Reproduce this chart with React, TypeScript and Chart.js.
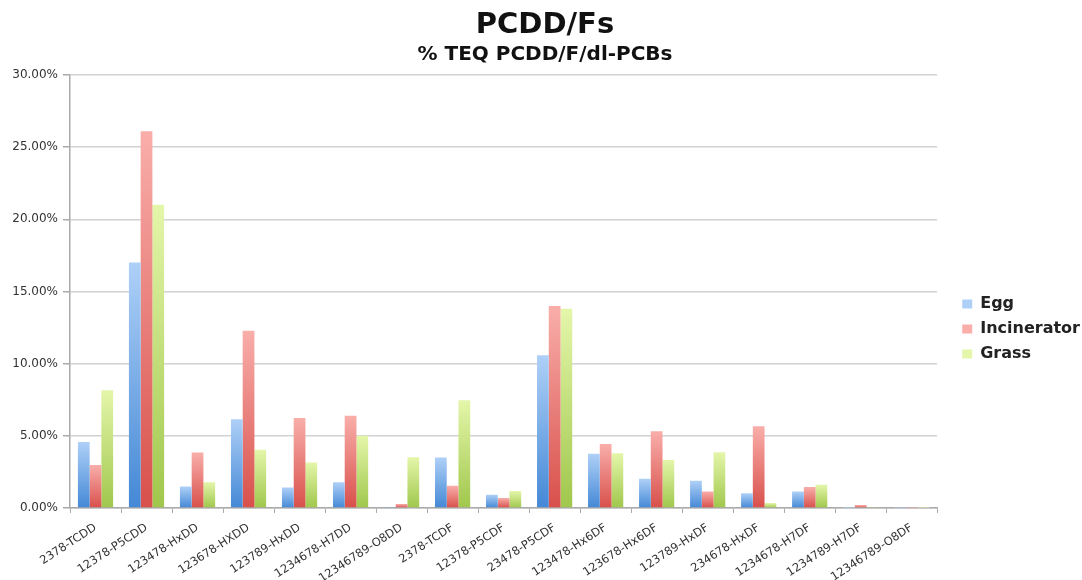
import React, { useEffect, useRef } from "react";
import { Chart, registerables } from "chart.js";

Chart.register(...registerables);

const categories = [
  "2378-TCDD",
  "12378-P5CDD",
  "123478-HxDD",
  "123678-HXDD",
  "123789-HxDD",
  "1234678-H7DD",
  "12346789-O8DD",
  "2378-TCDF",
  "12378-P5CDF",
  "23478-P5CDF",
  "123478-Hx6DF",
  "123678-Hx6DF",
  "123789-HxDF",
  "234678-HxDF",
  "1234678-H7DF",
  "1234789-H7DF",
  "12346789-O8DF",
];

const egg = [4.58, 17.0, 1.49, 6.15, 1.42, 1.79, 0.07, 3.49, 0.92, 10.58, 3.75, 2.02, 1.88, 1.03, 1.15, 0.02, 0.01];
const incinerator = [2.97, 26.1, 3.84, 12.28, 6.23, 6.39, 0.28, 1.54, 0.69, 14.0, 4.44, 5.31, 1.15, 5.66, 1.45, 0.2, 0.01];
const grass = [8.16, 21.0, 1.79, 4.04, 3.15, 5.01, 3.52, 7.47, 1.17, 13.8, 3.8, 3.33, 3.86, 0.34, 1.61, 0.07, 0.01];

const yTicks = [0, 5, 10, 15, 20, 25, 30];

const FONT = "'DejaVu Sans', 'Liberation Sans', sans-serif";

function barGradient(top: string, bottom: string, solid: string) {
  return (ctx: any) => {
    const chart = ctx.chart;
    if (!chart || !chart.chartArea || ctx.type !== "data" || typeof ctx.raw !== "number") return solid;
    const y = chart.scales.y;
    const yTop = y.getPixelForValue(ctx.raw);
    const yBot = y.getPixelForValue(0);
    if (!(yBot - yTop > 0.5)) return top;
    const g = chart.ctx.createLinearGradient(0, yTop, 0, yBot);
    g.addColorStop(0, top);
    g.addColorStop(1, bottom);
    return g;
  };
}

export default function App() {
  const ref = useRef<HTMLCanvasElement | null>(null);

  useEffect(() => {
    if (!ref.current) return;
    const chart = new Chart(ref.current, {
      type: "bar",
      data: {
        labels: categories,
        datasets: [
          {
            label: "Egg",
            data: egg,
            backgroundColor: barGradient("#aed0f7", "#4488d6", "#6fa6e6"),
            borderWidth: 0,
          },
          {
            label: "Incinerator",
            data: incinerator,
            backgroundColor: barGradient("#f9aeaa", "#d8504b", "#ec7a75"),
            borderWidth: 0,
          },
          {
            label: "Grass",
            data: grass,
            backgroundColor: barGradient("#e4f6aa", "#a0c74c", "#c7e27c"),
            borderWidth: 0,
          },
        ],
      },
      options: {
        responsive: false,
        animation: false,
        layout: { padding: { top: 0, left: 0, bottom: 0, right: -8 } },
        datasets: {
          bar: { categoryPercentage: 0.69, barPercentage: 1.0 },
        },
        plugins: {
          title: {
            display: true,
            text: "PCDD/Fs",
            color: "#111",
            font: { family: FONT, size: 29, weight: "bold", lineHeight: 1.1 },
            padding: { top: 10, bottom: 0 },
          },
          subtitle: {
            display: true,
            text: "% TEQ PCDD/F/dl-PCBs",
            color: "#111",
            font: { family: FONT, size: 20, weight: "bold", lineHeight: 1.2 },
            padding: { top: 1, bottom: 8 },
          },
          legend: {
            display: true,
            position: "right",
            fullSize: true,
            title: {
              display: true,
              text: " ",
              font: { family: FONT, size: 10 },
              padding: { top: 66, bottom: 0 },
            },
            labels: {
              font: { family: FONT, size: 16, weight: "bold" },
              color: "#222",
              boxWidth: 10,
              boxHeight: 9,
              padding: 9,
            },
          },
          tooltip: { enabled: false },
        },
        scales: {
          x: {
            offset: true,
            grid: {
              display: true,
              drawOnChartArea: false,
              offset: true,
              color: "#aaaaaa",
              tickLength: 5,
            },
            border: { display: true, color: "#aaaaaa", width: 1.5 },
            ticks: {
              color: "#333",
              font: { family: FONT, size: 11.5 },
              minRotation: 33,
              maxRotation: 33,
              autoSkip: false,
              padding: 8,
            },
            afterFit: (s: any) => {
              s.height = 72;
            },
          },
          y: {
            min: 0,
            max: 30,
            afterBuildTicks: (s: any) => {
              s.ticks = yTicks.map((v) => ({ value: v }));
            },
            grid: {
              color: "#d2d2d2",
              lineWidth: 1.5,
              tickLength: 7,
              tickColor: "#aaaaaa",
            },
            border: { display: true, color: "#aaaaaa", width: 1.5 },
            ticks: {
              color: "#333",
              font: { family: FONT, size: 12 },
              padding: 5,
              callback: (v: any) => Number(v).toFixed(2) + "%",
            },
            afterFit: (s: any) => {
              s.width = 70;
            },
          },
          yR: {
            type: "linear",
            position: "right",
            display: true,
            grid: { display: false, drawOnChartArea: false },
            border: { display: false },
            ticks: { display: false },
            afterFit: (s: any) => {
              s.width = 16;
            },
          },
        },
      } as any,
    });
    return () => chart.destroy();
  }, []);

  return (
    <div style={{ position: "absolute", left: 0, top: 0, width: 1082, height: 580, background: "#fff" }}>
      <canvas ref={ref} width={1082} height={580} style={{ display: "block" }} />
    </div>
  );
}
